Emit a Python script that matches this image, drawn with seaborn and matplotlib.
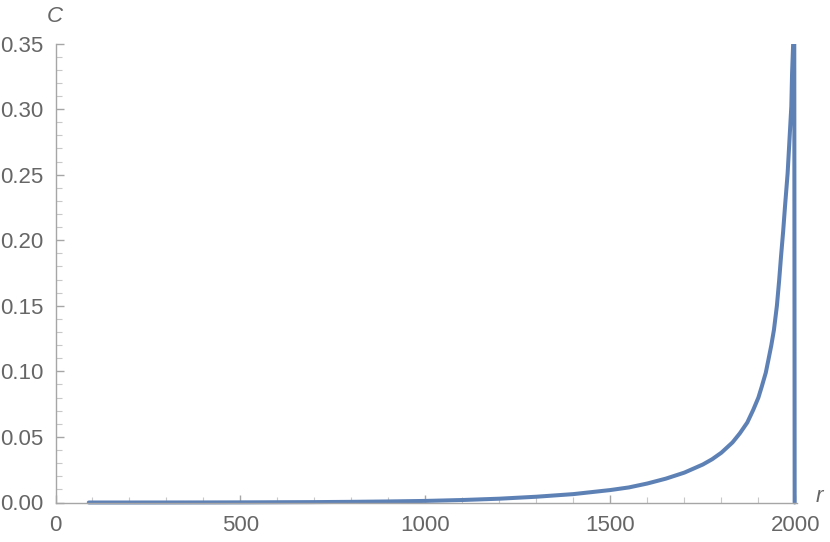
import pandas as pd
import seaborn as sns
import matplotlib.pyplot as plt
from matplotlib.patches import Rectangle
from matplotlib.ticker import MultipleLocator, FormatStrFormatter

# values
r_vals = [90, 200, 300, 400, 500, 600, 700, 800, 900, 1000, 1100, 1200,
          1300, 1400, 1500, 1550, 1600, 1650, 1700, 1750, 1775, 1800, 1830,
          1850, 1870, 1886, 1900, 1909, 1920, 1927, 1935, 1942, 1950, 1956,
          1961, 1967, 1972, 1979, 1984, 1989, 1991, 1994, 1997, 1998]
c_vals = [0.0, 0.0, 0.00002, 0.00005, 0.0001, 0.0002, 0.0003, 0.0005, 0.0008,
          0.0012, 0.0019, 0.0029, 0.0044, 0.0064, 0.0095, 0.0115, 0.0145,
          0.0182, 0.0228, 0.0290, 0.0330, 0.0380, 0.0458, 0.0528, 0.0610,
          0.0706, 0.0800, 0.0883, 0.0990, 0.1087, 0.1200, 0.1316, 0.1500,
          0.1690, 0.1870, 0.2070, 0.2260, 0.2510, 0.2765, 0.3020, 0.3270,
          0.3500, 0.3500, 0.0]

data = pd.DataFrame({'r': r_vals, 'C': c_vals})

sns.set_style("ticks")
plt.rcParams['font.family'] = ['Liberation Sans', 'DejaVu Sans']

fig = plt.figure(figsize=(8.3, 5.42), dpi=100)
ax = fig.add_axes([55.5 / 830, 39.5 / 542, 741 / 830, 459 / 542])

sns.lineplot(data=data, x='r', y='C', ax=ax, color='#5e81b5',
             linewidth=2.9, sort=False, estimator=None)

# clip only at the top, so the flat part sits fully on the axis
clip = Rectangle((-0.01, -0.03), 1.03, 1.03, transform=ax.transAxes)
for line in ax.lines:
    line.set_clip_path(clip)

ax.set_xlim(0, 2003)
ax.set_ylim(0, 0.35)

axis_grey = '#a6a6a6'
label_grey = '#666666'
for side in ['top', 'right']:
    ax.spines[side].set_visible(False)
for side in ['left', 'bottom']:
    ax.spines[side].set_color(axis_grey)
    ax.spines[side].set_linewidth(1.0)

ax.xaxis.set_major_locator(MultipleLocator(500))
ax.xaxis.set_minor_locator(MultipleLocator(100))
ax.yaxis.set_major_locator(MultipleLocator(0.05))
ax.yaxis.set_minor_locator(MultipleLocator(0.01))
ax.yaxis.set_major_formatter(FormatStrFormatter('%.2f'))

ax.tick_params(which='major', direction='in', length=6, width=1,
               color=axis_grey, labelsize=16, labelcolor=label_grey, pad=9)
ax.tick_params(which='minor', direction='in', length=4, width=0.8,
               color='#c8c8c8')

ax.set_xlabel('')
ax.set_ylabel('')
fig.text(55 / 830, 1 - 16 / 542, 'C', fontsize=16, style='italic',
         color=label_grey, ha='center', va='center')
fig.text(819 / 830, 1 - 496 / 542, 'r', fontsize=16, style='italic',
         color=label_grey, ha='center', va='center')

fig.savefig('out.png', dpi=100)
